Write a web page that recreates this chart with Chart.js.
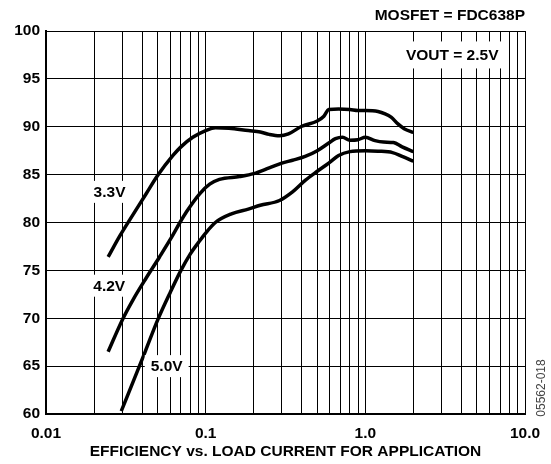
<!DOCTYPE html>
<html>
<head>
<meta charset="utf-8">
<script src="https://cdn.jsdelivr.net/npm/chart.js@4.4.0/dist/chart.umd.min.js"></script>
<style>
  html, body { margin: 0; padding: 0; background: #fff; }
</style>
</head>
<body>
<canvas id="efficiency" width="551" height="464"></canvas>
<script>
// load current (A) and efficiency (%)
const load33 = [0.0245, 0.029, 0.035, 0.0424, 0.05, 0.0624, 0.07, 0.083, 0.1, 0.115, 0.14, 0.185, 0.22, 0.25, 0.29, 0.33, 0.4, 0.5, 0.55, 0.59, 0.68, 0.8, 0.9, 1.0, 1.2, 1.33, 1.45, 1.6, 1.75, 2.0];
const eff33 = [76.4, 78.6, 80.8, 83.0, 84.9, 87.0, 87.9, 88.9, 89.6, 89.9, 89.85, 89.6, 89.45, 89.2, 89.05, 89.25, 90.05, 90.6, 91.1, 91.8, 91.85, 91.8, 91.7, 91.7, 91.6, 91.35, 91.0, 90.3, 89.8, 89.4];

const load42 = [0.0245, 0.03, 0.035, 0.0424, 0.0514, 0.0624, 0.069, 0.0757, 0.0917, 0.106, 0.122, 0.163, 0.2, 0.25, 0.3, 0.35, 0.42, 0.5, 0.59, 0.65, 0.72, 0.8, 0.9, 1.0, 1.15, 1.3, 1.5, 1.7, 2.0];
const eff42 = [66.5, 69.8, 71.9, 74.2, 76.4, 78.7, 80.0, 81.1, 83.0, 84.0, 84.5, 84.8, 85.1, 85.7, 86.2, 86.5, 86.9, 87.5, 88.3, 88.75, 88.9, 88.6, 88.65, 88.9, 88.55, 88.4, 88.35, 87.9, 87.4];

const load50 = [0.0296, 0.035, 0.042, 0.05, 0.06, 0.07, 0.08, 0.09, 0.1, 0.115, 0.145, 0.185, 0.22, 0.29, 0.35, 0.42, 0.5, 0.59, 0.68, 0.8, 1.0, 1.2, 1.48, 1.7, 2.0];
const eff50 = [60.3, 63.3, 66.6, 69.8, 72.7, 75.0, 76.7, 77.9, 78.9, 80.0, 80.9, 81.4, 81.8, 82.3, 83.2, 84.4, 85.35, 86.2, 87.0, 87.4, 87.5, 87.45, 87.3, 86.9, 86.4];

const seriesNames = ['3.3V', '4.2V', '5.0V'];
const xTickValues = [0.01, 0.1, 1, 10];
const xTickLabels = ['0.01', '0.1', '1.0', '10.0'];

const toPoints = (xs, ys) => xs.map((x, i) => ({ x: x, y: ys[i] }));

// every 1..9 x 10^n gridline across the three decades
const logGrid = [];
[0.01, 0.1, 1].forEach(dec => {
    for (let k = 1; k < 10; k++) logGrid.push(+(dec * k).toPrecision(3));
});
logGrid.push(10);

const FONT = '"Liberation Sans", Arial, sans-serif';

const textPlugin = {
    id: 'textPlugin',
    afterDraw(chart) {
        const { ctx, chartArea } = chart;
        const xs = chart.scales.x, ys = chart.scales.y;
        ctx.save();
        ctx.font = 'bold 15.5px ' + FONT;
        ctx.textBaseline = 'middle';
        ctx.fillStyle = '#000';

        // curve labels on white boxes
        const curveLabels = [
            { text: seriesNames[0], x: 0.025, y: 83.2, h: 22 },
            { text: seriesNames[1], x: 0.0249, y: 73.4, h: 22 },
            { text: seriesNames[2], x: 0.057, y: 65.0, h: 22 },
            { text: 'VOUT = 2.5V', x: 3.5, y: 97.5, h: 27 }
        ];
        ctx.textAlign = 'center';
        curveLabels.forEach(l => {
            const px = xs.getPixelForValue(l.x);
            const py = ys.getPixelForValue(l.y);
            const w = ctx.measureText(l.text).width;
            ctx.fillStyle = '#fff';
            ctx.fillRect(px - w / 2 - 6, py - l.h / 2, w + 12, l.h);
            ctx.fillStyle = '#000';
            ctx.fillText(l.text, px, py + 1);
        });

        ctx.textAlign = 'right';
        ctx.fillText('MOSFET = FDC638P', chartArea.right, 16);

        ctx.textAlign = 'center';
        ctx.fillText('EFFICIENCY vs. LOAD CURRENT FOR APPLICATION', (chartArea.left + chartArea.right) / 2, 452);

        // figure number, rotated
        ctx.font = '12px ' + FONT;
        ctx.fillStyle = '#444';
        ctx.translate(542, 388);
        ctx.rotate(-Math.PI / 2);
        ctx.fillText('05562-018', 0, 0);
        ctx.restore();
    }
};

const makeSet = (name, xs, ys) => ({
    label: name,
    data: toPoints(xs, ys),
    borderColor: '#000',
    borderWidth: 3.5,
    pointRadius: 0,
    fill: false,
    cubicInterpolationMode: 'monotone',
    borderCapStyle: 'butt',
    borderJoinStyle: 'round'
});

const ctx = document.getElementById('efficiency').getContext('2d');
new Chart(ctx, {
    type: 'line',
    data: {
        datasets: [
            makeSet(seriesNames[0], load33, eff33),
            makeSet(seriesNames[1], load42, eff42),
            makeSet(seriesNames[2], load50, eff50)
        ]
    },
    options: {
        responsive: false,
        animation: false,
        layout: { padding: { top: 31, right: 26, left: 0, bottom: 0 } },
        plugins: {
            legend: { display: false },
            tooltip: { enabled: false }
        },
        scales: {
            x: {
                type: 'logarithmic',
                min: 0.01,
                max: 10,
                afterBuildTicks: scale => { scale.ticks = logGrid.map(v => ({ value: v })); },
                afterFit: scale => { scale.height = 50; },
                ticks: {
                    autoSkip: false,
                    maxRotation: 0,
                    padding: 10,
                    color: '#000',
                    font: { family: FONT, size: 15.5, weight: 'bold' },
                    callback: v => {
                        const i = xTickValues.findIndex(t => Math.abs(t - v) / t < 1e-6);
                        return i >= 0 ? xTickLabels[i] : '';
                    }
                },
                grid: { color: '#000', lineWidth: 1, drawTicks: false },
                border: { color: '#000', width: 2 }
            },
            y: {
                min: 60,
                max: 100,
                afterFit: scale => { scale.width = 46; },
                ticks: {
                    stepSize: 5,
                    padding: 6,
                    color: '#000',
                    font: { family: FONT, size: 15.5, weight: 'bold' }
                },
                grid: { color: '#000', lineWidth: 1, drawTicks: false },
                border: { color: '#000', width: 2 }
            }
        }
    },
    plugins: [textPlugin]
});
</script>
</body>
</html>
